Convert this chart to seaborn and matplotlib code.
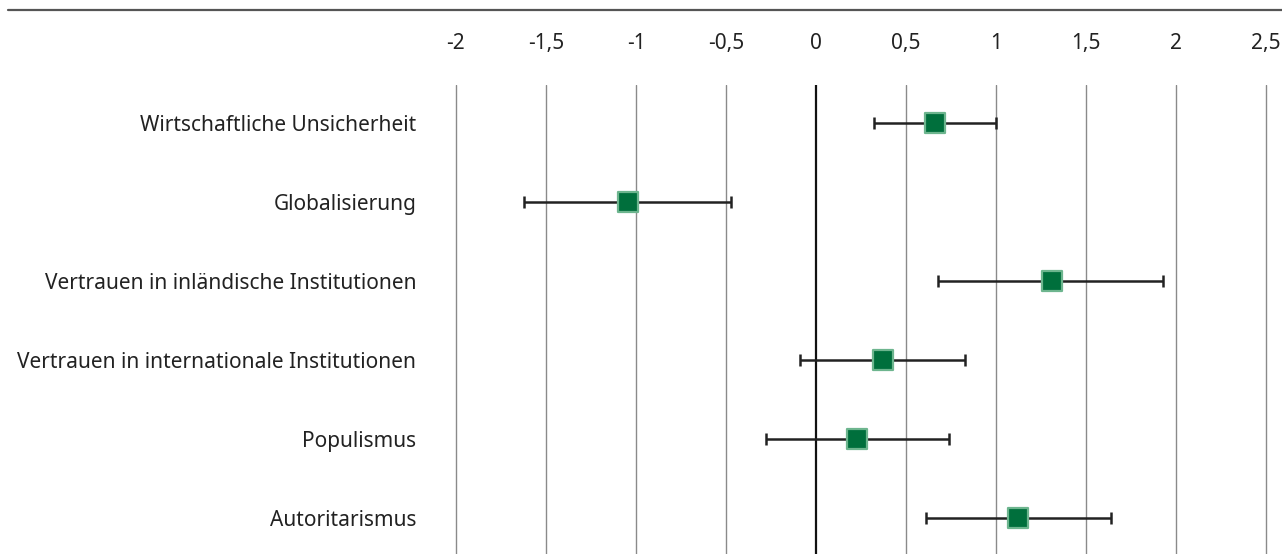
import matplotlib
matplotlib.use("Agg")
import matplotlib.pyplot as plt
import seaborn as sns
import pandas as pd

# values
categories = [
    "Wirtschaftliche Unsicherheit",
    "Globalisierung",
    "Vertrauen in inländische Institutionen",
    "Vertrauen in internationale Institutionen",
    "Populismus",
    "Autoritarismus",
]
estimate = [0.66, -1.045, 1.31, 0.37, 0.23, 1.12]
ci_low = [0.32, -1.62, 0.68, -0.09, -0.28, 0.61]
ci_high = [1.0, -0.47, 1.93, 0.83, 0.74, 1.64]
tick_values = [-2, -1.5, -1, -0.5, 0, 0.5, 1, 1.5, 2, 2.5]
tick_labels = ["-2", "-1,5", "-1", "-0,5", "0", "0,5", "1", "1,5", "2", "2,5"]

df = pd.DataFrame({"cat": categories, "est": estimate, "lo": ci_low, "hi": ci_high})
df["pos"] = range(len(df))

sns.set_theme(style="white")
plt.rcParams["font.family"] = ["Noto Sans", "DejaVu Sans"]

fig = plt.figure(figsize=(12.82, 5.54), dpi=100)
ax = fig.add_axes([447 / 1282, 0, 828 / 1282, 469 / 554])

# vertical grid lines
for v in tick_values:
    if v == 0:
        ax.axvline(v, color="#111111", lw=1.6, zorder=1)
    else:
        ax.axvline(v, color="#8a8a8a", lw=1.0, zorder=1)

# confidence intervals
ax.errorbar(df["est"], df["pos"],
            xerr=[df["est"] - df["lo"], df["hi"] - df["est"]],
            fmt="none", ecolor="#222222", elinewidth=1.8,
            capsize=4.5, capthick=1.8, zorder=2)

# point estimates
sns.scatterplot(data=df, x="est", y="pos", marker="s", s=205,
                color="#006f3c", edgecolor="#6db58e", linewidth=1.6,
                zorder=3, ax=ax, legend=False)

ax.set_xlim(-2.05, 2.55)
ax.set_ylim(5 + 36 / 79, -38 / 79)
ax.xaxis.tick_top()
ax.set_xticks(tick_values)
ax.set_xticklabels(tick_labels)
ax.set_yticks(df["pos"])
ax.set_yticklabels(categories)
ax.tick_params(axis="x", length=0, pad=22, labelsize=15, colors="#222222")
ax.tick_params(axis="y", length=0, pad=22, labelsize=15, colors="#222222")
ax.set_xlabel("")
ax.set_ylabel("")
for sp in ax.spines.values():
    sp.set_visible(False)

# rule at the top of the figure
fig.add_artist(plt.Line2D([8 / 1282, 1], [1 - 10 / 554, 1 - 10 / 554],
                          color="#555555", lw=1.6))

fig.savefig("out.png", dpi=100)
